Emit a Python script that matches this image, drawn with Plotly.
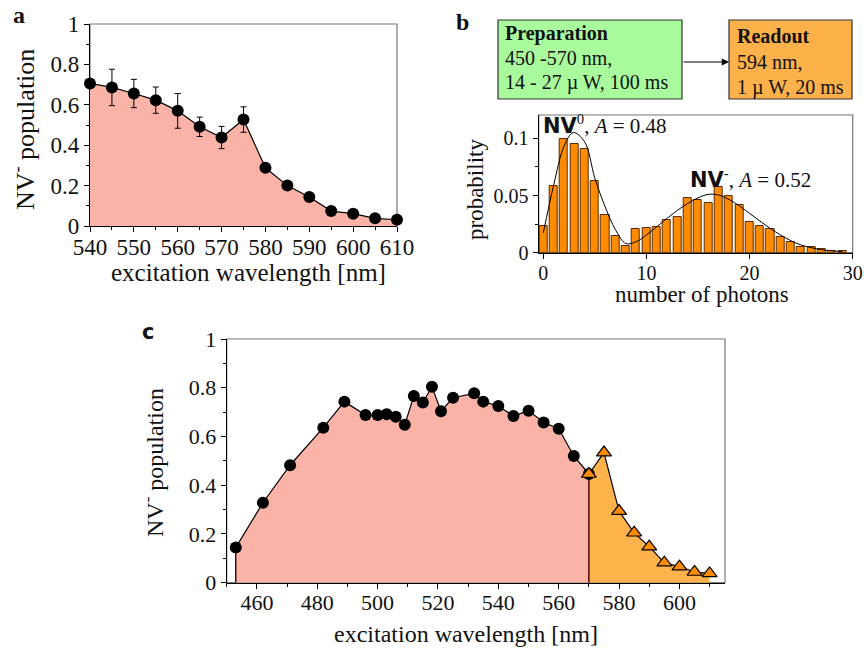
import plotly.graph_objects as go

# ---------------- data ----------------
# panel a
a_wavelength = [540, 545, 550, 555, 560, 565, 570, 575, 580, 585, 590, 595, 600, 605, 610]
a_population = [0.706, 0.686, 0.656, 0.623, 0.570, 0.491, 0.438, 0.527, 0.288, 0.200, 0.144, 0.074, 0.061, 0.038, 0.031]
a_error = [0, 0.090, 0.070, 0.065, 0.086, 0.048, 0.055, 0.063, 0, 0, 0, 0, 0, 0, 0]

# panel b
b_photons = list(range(30))
b_probability = [0.0233, 0.0586, 0.0990, 0.0948, 0.0907, 0.0627, 0.0332, 0.0146, 0.0058, 0.0207,
                 0.0216, 0.0227, 0.0283, 0.0312, 0.0475, 0.0460, 0.0431, 0.0571, 0.0499, 0.0420,
                 0.0265, 0.0233, 0.0207, 0.0140, 0.0090, 0.0052, 0.0050, 0.0030, 0.0015, 0.0015]
b_fit_x = [0, 1, 2, 2.9, 4, 5, 6, 7, 8, 9, 10, 11, 12, 13, 14, 15, 16, 17, 18, 19, 20, 21, 22, 23, 24, 25, 26, 27, 28, 29]
b_fit_y = [0.0175, 0.059, 0.093, 0.105, 0.097, 0.065, 0.040, 0.020, 0.008, 0.0096, 0.0155, 0.0227, 0.0300, 0.037,
           0.043, 0.048, 0.051, 0.0504, 0.0466, 0.041, 0.0344, 0.0277, 0.0213, 0.0155, 0.0105, 0.0067, 0.0044,
           0.0026, 0.0017, 0.0009]

# panel c
c_wl_prep = [453, 462, 471, 482, 489, 496, 500, 503, 506, 509, 512, 515, 518, 521, 525, 532, 535, 540,
             545, 550, 555, 560, 565, 570]
c_pop_prep = [0.144, 0.328, 0.482, 0.636, 0.743, 0.688, 0.688, 0.691, 0.681, 0.648, 0.766, 0.739, 0.804,
              0.704, 0.759, 0.777, 0.743, 0.725, 0.684, 0.706, 0.657, 0.632, 0.520, 0.446]
c_wl_read = [570, 575, 580, 585, 590, 595, 600, 605, 610]
c_pop_read = [0.446, 0.534, 0.294, 0.205, 0.148, 0.082, 0.066, 0.044, 0.038]

# ---------------- styles ----------------
W, H = 864, 650
SERIF = "Liberation Serif"
PINK = "#FBB3A8"
ORANGE_FILL = "#FDB24C"
ORANGE_MARK = "#FF8C00"
EDGE = "#4a0a0a"


def px(x):
    return x / W


def py(y):
    return 1 - y / H


fig = go.Figure()

# ---- panel a ----
fig.add_trace(go.Scatter(
    x=a_wavelength, y=a_population, mode="lines+markers", fill="tozeroy", fillcolor=PINK,
    line=dict(color="black", width=1.2),
    marker=dict(color="black", size=12),
    error_y=dict(type="data", array=a_error, visible=True, color="black", thickness=1, width=3),
    cliponaxis=False, xaxis="x", yaxis="y", showlegend=False))

# ---- panel b ----
fig.add_trace(go.Bar(
    x=b_photons, y=b_probability, width=0.78,
    marker=dict(color=ORANGE_MARK, line=dict(color="#5a2a00", width=1)),
    xaxis="x2", yaxis="y2", showlegend=False))
fig.add_trace(go.Scatter(
    x=b_fit_x, y=b_fit_y, mode="lines", line=dict(color="black", width=1, shape="spline"),
    xaxis="x2", yaxis="y2", showlegend=False))

# ---- panel c ----
fig.add_trace(go.Scatter(
    x=c_wl_prep, y=c_pop_prep, mode="lines", fill="tozeroy", fillcolor=PINK,
    line=dict(color="black", width=1.2), xaxis="x3", yaxis="y3", showlegend=False))
fig.add_trace(go.Scatter(
    x=c_wl_read, y=c_pop_read, mode="lines", fill="tozeroy", fillcolor=ORANGE_FILL,
    line=dict(color="black", width=1.2), xaxis="x3", yaxis="y3", showlegend=False))
# vertical edges of the filled regions
fig.add_trace(go.Scatter(
    x=[c_wl_prep[0], c_wl_prep[0]], y=[0, c_pop_prep[0]], mode="lines",
    line=dict(color=EDGE, width=1.5), xaxis="x3", yaxis="y3", showlegend=False))
fig.add_trace(go.Scatter(
    x=[c_wl_read[0], c_wl_read[0]], y=[0, c_pop_read[0]], mode="lines",
    line=dict(color=EDGE, width=1.5), xaxis="x3", yaxis="y3", showlegend=False))
fig.add_trace(go.Scatter(
    x=c_wl_prep, y=c_pop_prep, mode="markers", marker=dict(color="black", size=12),
    cliponaxis=False, xaxis="x3", yaxis="y3", showlegend=False))
fig.add_trace(go.Scatter(
    x=c_wl_read, y=c_pop_read, mode="markers",
    marker=dict(color=ORANGE_MARK, size=13, symbol="triangle-up", line=dict(color="black", width=1.2)),
    cliponaxis=False, xaxis="x3", yaxis="y3", showlegend=False))

axis_common = dict(showline=True, linecolor="black", linewidth=1.2, ticks="outside", ticklen=5,
                   tickcolor="black", showgrid=False, zeroline=False, mirror=False, automargin=False,
                   tickfont=dict(family=SERIF, size=23, color="#111"))

fig.update_layout(
    width=W, height=H, margin=dict(l=0, r=0, t=0, b=0, autoexpand=False),
    paper_bgcolor="white", plot_bgcolor="white", bargap=0,
    xaxis=dict(axis_common, domain=[px(90), px(397)], range=[540, 610], dtick=10, anchor="y",
               ticklabelstandoff=-5,
               minor=dict(dtick=5, ticklen=3, ticks="outside", tickcolor="black")),
    yaxis=dict(axis_common, domain=[py(226), py(24)], range=[0, 1], dtick=0.2, anchor="x",
               tickvals=[0, 0.2, 0.4, 0.6, 0.8, 1], ticktext=["0", "0.2", "0.4", "0.6", "0.8", "1"],
               minor=dict(dtick=0.1, ticklen=3, ticks="outside", tickcolor="black")),
    xaxis2=dict(axis_common, domain=[px(538.7), px(852.7)], range=[-0.45, 30], dtick=10, anchor="y2",
                ticklabelstandoff=-3,
                tickfont=dict(family=SERIF, size=20, color="#111")),
    yaxis2=dict(axis_common, domain=[py(252.7), py(115)], range=[0, 0.1204], anchor="x2",
                tickvals=[0, 0.05, 0.1], ticktext=["0", "0.05", "0.1"],
                tickfont=dict(family=SERIF, size=20, color="#111"),
                minor=dict(tickvals=[0.025, 0.075], ticklen=3, ticks="outside", tickcolor="black")),
    xaxis3=dict(axis_common, domain=[px(226.7), px(725)], range=[450, 615.1], dtick=20, anchor="y3",
                ticklabelstandoff=-5,
                tickfont=dict(family=SERIF, size=22, color="#111"),
                minor=dict(dtick=10, ticklen=3, ticks="outside", tickcolor="black")),
    yaxis3=dict(axis_common, domain=[py(582.7), py(339)], range=[0, 1], anchor="x3",
                tickvals=[0, 0.2, 0.4, 0.6, 0.8, 1], ticktext=["0", "0.2", "0.4", "0.6", "0.8", "1"],
                tickfont=dict(family=SERIF, size=22, color="#111"),
                minor=dict(dtick=0.1, ticklen=3, ticks="outside", tickcolor="black")),
)

shapes = []
# grey frames around each plot
for xr, yr in [("x domain", "y domain"), ("x2 domain", "y2 domain"), ("x3 domain", "y3 domain")]:
    shapes.append(dict(type="rect", xref=xr, yref=yr, x0=0, x1=1, y0=0, y1=1,
                       line=dict(color="#777", width=1.2), fillcolor="rgba(0,0,0,0)", layer="below"))
# panel b boxes
shapes.append(dict(type="rect", xref="paper", yref="paper", x0=px(498), x1=px(682), y0=py(99), y1=py(20),
                   fillcolor="#A9FA9C", line=dict(color="#333", width=1.2), layer="below"))
shapes.append(dict(type="rect", xref="paper", yref="paper", x0=px(729), x1=px(852), y0=py(99), y1=py(20),
                   fillcolor="#FDB14A", line=dict(color="#333", width=1.2), layer="below"))
fig.update_layout(shapes=shapes)

ann = []


def text(x, y, s, size, xanchor="center", yanchor="middle", angle=0, family=SERIF, color="#111"):
    ann.append(dict(x=px(x), y=py(y), xref="paper", yref="paper", text=s, showarrow=False,
                    xanchor=xanchor, yanchor=yanchor, textangle=angle,
                    font=dict(family=family, size=size, color=color)))


# panel letters
text(19, 15, "<b>a</b>", 24)
text(462, 22, "<b>b</b>", 24)
text(148, 332, "<b>c</b>", 21, family="DejaVu Sans")

# panel a axis titles
text(24, 130, "NV<sup>-</sup> population", 26, angle=-90)
text(248, 273, "excitation wavelength [nm]", 25)

# panel b axis titles
text(475, 190, "probability", 23, angle=-90)
text(702, 294, "number of photons", 23)

# panel c axis titles
text(153, 463, "NV<sup>-</sup> population", 24, angle=-90)
text(466, 634, "excitation wavelength [nm]", 24)

# panel b boxes text
for i, s in enumerate(["<b>Preparation</b>", "450 -570 nm,", "14 - 27 \u00b5 W, 100 ms"]):
    text(503, 33 + i * 25, s, 20, xanchor="left")
for i, s in enumerate(["<b>Readout</b>", "594 nm,", "1 \u00b5 W, 20 ms"]):
    text(735, 36 + i * 25.5, s, 20, xanchor="left")

# arrow between boxes
ann.append(dict(x=px(729), y=py(62), ax=-47, ay=0, xref="paper", yref="paper",
                axref="pixel", ayref="pixel", showarrow=True, arrowhead=2, arrowsize=1.2,
                arrowwidth=1.2, arrowcolor="black", text=""))

# peak labels
text(541, 125, "<span style='font-family:DejaVu Sans'><b>NV</b></span><sup>0</sup>, <i>A</i> = 0.48", 21,
     xanchor="left")
text(688, 178, "<span style='font-family:DejaVu Sans'><b>NV</b></span><sup>-</sup>, <i>A</i> = 0.52", 21,
     xanchor="left")

fig.update_layout(annotations=ann)

fig.write_html("out.html")
